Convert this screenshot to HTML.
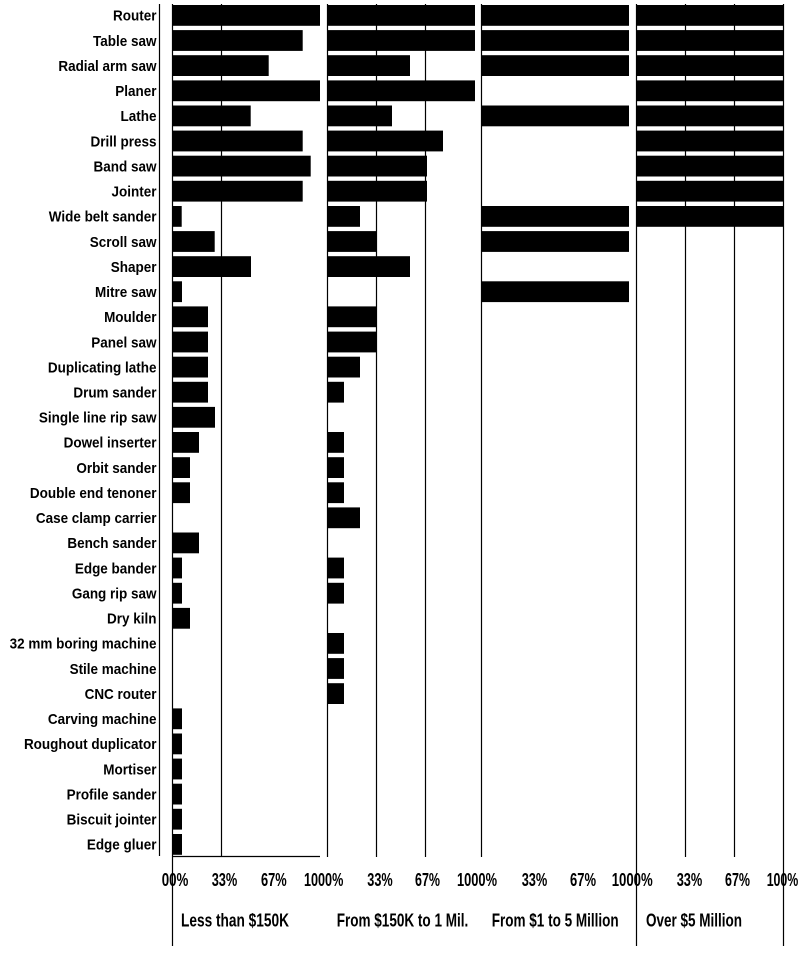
<!DOCTYPE html>
<html>
<head>
<meta charset="utf-8">
<style>
  html, body { margin: 0; padding: 0; background: #ffffff; }
  svg { display: block; }
  .lbl { font-family: "Liberation Sans", Arial, sans-serif; font-weight: bold; font-size: 15px; fill: #000; }
  .tk { font-family: "Liberation Sans", Arial, sans-serif; font-weight: bold; font-size: 18px; fill: #000; }
</style>
</head>
<body>
<svg width="800" height="967" viewBox="0 0 800 967" xmlns="http://www.w3.org/2000/svg">
  <rect x="0" y="0" width="800" height="967" fill="#ffffff"/>

  <!-- axis / grid lines -->
  <g stroke="#000" stroke-width="1.2" fill="none">
    <line x1="159.5" y1="4" x2="159.5" y2="856"/>
    <line x1="172.5" y1="4" x2="172.5" y2="946"/>
    <line x1="221.5" y1="4" x2="221.5" y2="856.5"/>
    <line x1="172" y1="856.5" x2="320" y2="856.5"/>
    <line x1="327.5" y1="4" x2="327.5" y2="857"/>
    <line x1="376.5" y1="4" x2="376.5" y2="857"/>
    <line x1="425.5" y1="4" x2="425.5" y2="857"/>
    <line x1="481.5" y1="4" x2="481.5" y2="857"/>
    <line x1="636.5" y1="4" x2="636.5" y2="946"/>
    <line x1="685.5" y1="4" x2="685.5" y2="857"/>
    <line x1="734.5" y1="4" x2="734.5" y2="857"/>
    <line x1="783.5" y1="4" x2="783.5" y2="946"/>
  </g>

  <!-- Panel 1 bars -->
  <g fill="#000">
    <rect x="172" y="5.0" width="148" height="20.8"/>
    <rect x="172" y="30.1" width="130.7" height="20.8"/>
    <rect x="172" y="55.2" width="96.7" height="20.8"/>
    <rect x="172" y="80.4" width="148" height="20.8"/>
    <rect x="172" y="105.5" width="78.7" height="20.8"/>
    <rect x="172" y="130.6" width="130.7" height="20.8"/>
    <rect x="172" y="155.7" width="138.7" height="20.8"/>
    <rect x="172" y="180.8" width="130.7" height="20.8"/>
    <rect x="172" y="206.0" width="9.7" height="20.8"/>
    <rect x="172" y="231.1" width="42.7" height="20.8"/>
    <rect x="172" y="256.2" width="79" height="20.8"/>
    <rect x="172" y="281.3" width="10" height="20.8"/>
    <rect x="172" y="306.4" width="36" height="20.8"/>
    <rect x="172" y="331.6" width="36" height="20.8"/>
    <rect x="172" y="356.7" width="36" height="20.8"/>
    <rect x="172" y="381.8" width="36" height="20.8"/>
    <rect x="172" y="406.9" width="43" height="20.8"/>
    <rect x="172" y="432.0" width="27" height="20.8"/>
    <rect x="172" y="457.2" width="18" height="20.8"/>
    <rect x="172" y="482.3" width="18" height="20.8"/>
    <rect x="172" y="532.5" width="27" height="20.8"/>
    <rect x="172" y="557.6" width="10" height="20.8"/>
    <rect x="172" y="582.8" width="10" height="20.8"/>
    <rect x="172" y="607.9" width="18" height="20.8"/>
    <rect x="172" y="708.4" width="10" height="20.8"/>
    <rect x="172" y="733.5" width="10" height="20.8"/>
    <rect x="172" y="758.6" width="10" height="20.8"/>
    <rect x="172" y="783.7" width="10" height="20.8"/>
    <rect x="172" y="808.8" width="10" height="20.8"/>
    <rect x="172" y="834.0" width="10" height="20.8"/>
  </g>

  <!-- Panel 2 bars -->
  <g fill="#000">
    <rect x="327" y="5.0" width="148" height="20.8"/>
    <rect x="327" y="30.1" width="148" height="20.8"/>
    <rect x="327" y="55.2" width="83" height="20.8"/>
    <rect x="327" y="80.4" width="148" height="20.8"/>
    <rect x="327" y="105.5" width="65" height="20.8"/>
    <rect x="327" y="130.6" width="116" height="20.8"/>
    <rect x="327" y="155.7" width="100" height="20.8"/>
    <rect x="327" y="180.8" width="100" height="20.8"/>
    <rect x="327" y="206.0" width="33" height="20.8"/>
    <rect x="327" y="231.1" width="49.3" height="20.8"/>
    <rect x="327" y="256.2" width="83" height="20.8"/>
    <rect x="327" y="306.4" width="49.3" height="20.8"/>
    <rect x="327" y="331.6" width="49.3" height="20.8"/>
    <rect x="327" y="356.7" width="33" height="20.8"/>
    <rect x="327" y="381.8" width="17" height="20.8"/>
    <rect x="327" y="432.0" width="17" height="20.8"/>
    <rect x="327" y="457.2" width="17" height="20.8"/>
    <rect x="327" y="482.3" width="17" height="20.8"/>
    <rect x="327" y="507.4" width="33" height="20.8"/>
    <rect x="327" y="557.6" width="17" height="20.8"/>
    <rect x="327" y="582.8" width="17" height="20.8"/>
    <rect x="327" y="633.0" width="17" height="20.8"/>
    <rect x="327" y="658.1" width="17" height="20.8"/>
    <rect x="327" y="683.2" width="17" height="20.8"/>
  </g>

  <!-- Panel 3 bars -->
  <g fill="#000">
    <rect x="481" y="5.0" width="148" height="20.8"/>
    <rect x="481" y="30.1" width="148" height="20.8"/>
    <rect x="481" y="55.2" width="148" height="20.8"/>
    <rect x="481" y="105.5" width="148" height="20.8"/>
    <rect x="481" y="206.0" width="148" height="20.8"/>
    <rect x="481" y="231.1" width="148" height="20.8"/>
    <rect x="481" y="281.3" width="148" height="20.8"/>
  </g>

  <!-- Panel 4 bars -->
  <g fill="#000">
    <rect x="636" y="5.0" width="148" height="20.8"/>
    <rect x="636" y="30.1" width="148" height="20.8"/>
    <rect x="636" y="55.2" width="148" height="20.8"/>
    <rect x="636" y="80.4" width="148" height="20.8"/>
    <rect x="636" y="105.5" width="148" height="20.8"/>
    <rect x="636" y="130.6" width="148" height="20.8"/>
    <rect x="636" y="155.7" width="148" height="20.8"/>
    <rect x="636" y="180.8" width="148" height="20.8"/>
    <rect x="636" y="206.0" width="148" height="20.8"/>
  </g>

  <!-- Row labels -->
  <g class="lbl" text-anchor="end">
    <text transform="translate(156.5,20.7) scale(0.9,1)">Router</text>
    <text transform="translate(156.5,45.8) scale(0.9,1)">Table saw</text>
    <text transform="translate(156.5,70.9) scale(0.9,1)">Radial arm saw</text>
    <text transform="translate(156.5,96.1) scale(0.9,1)">Planer</text>
    <text transform="translate(156.5,121.2) scale(0.9,1)">Lathe</text>
    <text transform="translate(156.5,146.3) scale(0.9,1)">Drill press</text>
    <text transform="translate(156.5,171.4) scale(0.9,1)">Band saw</text>
    <text transform="translate(156.5,196.5) scale(0.9,1)">Jointer</text>
    <text transform="translate(156.5,221.7) scale(0.9,1)">Wide belt sander</text>
    <text transform="translate(156.5,246.8) scale(0.9,1)">Scroll saw</text>
    <text transform="translate(156.5,271.9) scale(0.9,1)">Shaper</text>
    <text transform="translate(156.5,297.0) scale(0.9,1)">Mitre saw</text>
    <text transform="translate(156.5,322.1) scale(0.9,1)">Moulder</text>
    <text transform="translate(156.5,347.3) scale(0.9,1)">Panel saw</text>
    <text transform="translate(156.5,372.4) scale(0.9,1)">Duplicating lathe</text>
    <text transform="translate(156.5,397.5) scale(0.9,1)">Drum sander</text>
    <text transform="translate(156.5,422.6) scale(0.9,1)">Single line rip saw</text>
    <text transform="translate(156.5,447.7) scale(0.9,1)">Dowel inserter</text>
    <text transform="translate(156.5,472.9) scale(0.9,1)">Orbit sander</text>
    <text transform="translate(156.5,498.0) scale(0.9,1)">Double end tenoner</text>
    <text transform="translate(156.5,523.1) scale(0.9,1)">Case clamp carrier</text>
    <text transform="translate(156.5,548.2) scale(0.9,1)">Bench sander</text>
    <text transform="translate(156.5,573.3) scale(0.9,1)">Edge bander</text>
    <text transform="translate(156.5,598.5) scale(0.9,1)">Gang rip saw</text>
    <text transform="translate(156.5,623.6) scale(0.9,1)">Dry kiln</text>
    <text transform="translate(156.5,648.7) scale(0.9,1)">32 mm boring machine</text>
    <text transform="translate(156.5,673.8) scale(0.9,1)">Stile machine</text>
    <text transform="translate(156.5,698.9) scale(0.9,1)">CNC router</text>
    <text transform="translate(156.5,724.1) scale(0.9,1)">Carving machine</text>
    <text transform="translate(156.5,749.2) scale(0.9,1)">Roughout duplicator</text>
    <text transform="translate(156.5,774.3) scale(0.9,1)">Mortiser</text>
    <text transform="translate(156.5,799.4) scale(0.9,1)">Profile sander</text>
    <text transform="translate(156.5,824.5) scale(0.9,1)">Biscuit jointer</text>
    <text transform="translate(156.5,849.7) scale(0.9,1)">Edge gluer</text>
  </g>

  <!-- Tick labels -->
  <g class="tk">
    <text x="161.7" y="885.8" textLength="26.6" lengthAdjust="spacingAndGlyphs">00%</text>
    <text x="211.7" y="885.8" textLength="25.6" lengthAdjust="spacingAndGlyphs">33%</text>
    <text x="261" y="885.8" textLength="25.7" lengthAdjust="spacingAndGlyphs">67%</text>
    <text x="304" y="885.8" textLength="39.3" lengthAdjust="spacingAndGlyphs">1000%</text>
    <text x="367.3" y="885.8" textLength="25.4" lengthAdjust="spacingAndGlyphs">33%</text>
    <text x="415" y="885.8" textLength="25" lengthAdjust="spacingAndGlyphs">67%</text>
    <text x="457" y="885.8" textLength="40" lengthAdjust="spacingAndGlyphs">1000%</text>
    <text x="521.7" y="885.8" textLength="25.6" lengthAdjust="spacingAndGlyphs">33%</text>
    <text x="570" y="885.8" textLength="26" lengthAdjust="spacingAndGlyphs">67%</text>
    <text x="611.7" y="885.8" textLength="41" lengthAdjust="spacingAndGlyphs">1000%</text>
    <text x="676.7" y="885.8" textLength="25.6" lengthAdjust="spacingAndGlyphs">33%</text>
    <text x="725" y="885.8" textLength="25" lengthAdjust="spacingAndGlyphs">67%</text>
    <text x="766.7" y="885.8" textLength="31.6" lengthAdjust="spacingAndGlyphs">100%</text>
  </g>

  <!-- Category labels -->
  <g class="tk">
    <text x="181" y="926.3" textLength="108" lengthAdjust="spacingAndGlyphs">Less than $150K</text>
    <text x="336.7" y="926.3" textLength="131.6" lengthAdjust="spacingAndGlyphs">From $150K to 1 Mil.</text>
    <text x="491.7" y="926.3" textLength="127" lengthAdjust="spacingAndGlyphs">From $1 to 5 Million</text>
    <text x="646" y="926.3" textLength="96" lengthAdjust="spacingAndGlyphs">Over $5 Million</text>
  </g>
</svg>
</body>
</html>
